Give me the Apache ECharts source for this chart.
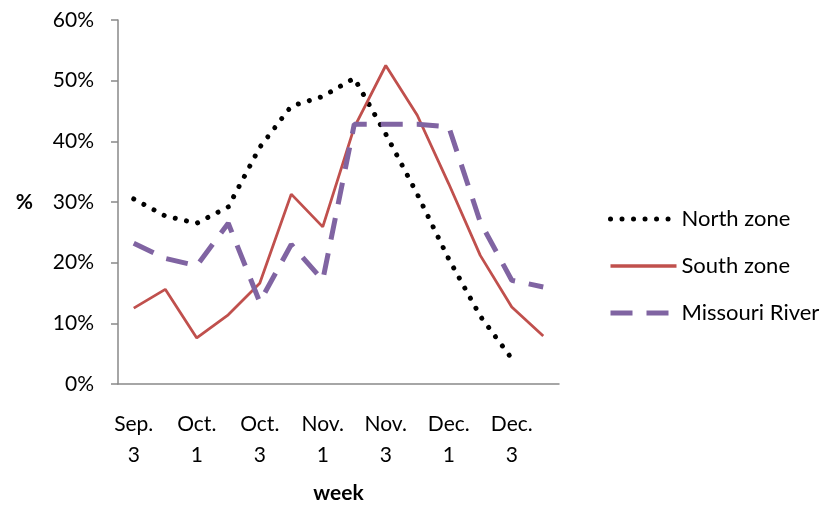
<!DOCTYPE html>
<html>
<head>
<meta charset="utf-8">
<script src="https://cdn.jsdelivr.net/npm/echarts@6/dist/echarts.min.js"></script>
<style>
html,body{margin:0;padding:0;background:#fff;}
#chart{width:839px;height:510px;}
</style>
</head>
<body>
<div id="chart"></div>
<script>
const categories = ["Sep.\n3","Sep.\n4","Oct.\n1","Oct.\n2","Oct.\n3","Oct.\n4","Nov.\n1","Nov.\n2","Nov.\n3","Nov.\n4","Dec.\n1","Dec.\n2","Dec.\n3","Dec.\n4"];
const northZone = [30.5, 27.7, 26.5, 29.2, 39.0, 45.8, 47.4, 50.4, 41.2, 31.3, 20.6, 11.2, 4.2, null];
const southZone = [12.5, 15.6, 7.6, 11.4, 16.6, 31.3, 25.9, 42.3, 52.5, 44.3, 33.0, 21.2, 12.7, 7.9];
const missouriRiver = [23.2, 20.7, 19.5, 26.5, 13.5, 23.0, 17.1, 42.8, 42.8, 42.8, 42.4, 26.7, 17.1, 16.0];
const yTicks = [0, 10, 20, 30, 40, 50, 60];

const FONT = 'Lato';
const chart = echarts.init(document.getElementById('chart'), null, {renderer: 'canvas'});
chart.setOption({
  animation: false,
  backgroundColor: '#ffffff',
  textStyle: {fontFamily: FONT},
  grid: {left: 118, right: 280, top: 20, bottom: 126},
  legend: {
    orient: 'vertical',
    left: 603,
    top: 203,
    itemWidth: 66,
    itemHeight: 14,
    itemGap: 25,
    itemStyle: {opacity: 0},
    textStyle: {fontFamily: FONT, fontSize: 22, color: '#000', padding: [0, 0, 0, 0]},
    data: [
      {name: 'North zone', lineStyle: {width: 5}},
      {name: 'South zone', lineStyle: {width: 3.5}},
      {name: 'Missouri River', lineStyle: {width: 5}}
    ]
  },
  xAxis: {
    type: 'category',
    data: categories,
    boundaryGap: true,
    name: 'week',
    nameLocation: 'middle',
    nameGap: 99,
    nameTextStyle: {fontFamily: FONT, fontSize: 21, fontWeight: 'bold', color: '#000'},
    axisLine: {lineStyle: {color: '#898989', width: 1.5}},
    axisTick: {show: false},
    axisLabel: {interval: 1, fontFamily: FONT, fontSize: 21, color: '#000', lineHeight: 31.5, margin: 24},
    splitLine: {show: false}
  },
  yAxis: {
    type: 'value',
    min: yTicks[0],
    max: yTicks[yTicks.length - 1],
    interval: 10,
    name: '%',
    nameLocation: 'middle',
    nameRotate: 0,
    nameGap: 85,
    nameTextStyle: {fontFamily: FONT, fontSize: 21, fontWeight: 'bold', color: '#000'},
    axisLine: {show: true, lineStyle: {color: '#898989', width: 1.5}},
    axisTick: {show: true, length: 7, lineStyle: {color: '#898989', width: 1.5}},
    axisLabel: {fontFamily: FONT, fontSize: 21, color: '#000', margin: 24, formatter: v => v + '%'},
    splitLine: {show: false}
  },
  series: [
    {
      name: 'North zone', type: 'line', data: northZone, symbol: 'none',
      itemStyle: {color: '#000000'},
      lineStyle: {color: '#000000', width: 5, type: [0.01, 11.5], cap: 'round'}
    },
    {
      name: 'South zone', type: 'line', data: southZone, symbol: 'none',
      itemStyle: {color: '#C0504D'},
      lineStyle: {color: '#C0504D', width: 2.8}
    },
    {
      name: 'Missouri River', type: 'line', data: missouriRiver, symbol: 'none',
      itemStyle: {color: '#8064A2'},
      lineStyle: {color: '#8064A2', width: 5, type: [22, 14]}
    }
  ]
});
</script>
</body>
</html>
